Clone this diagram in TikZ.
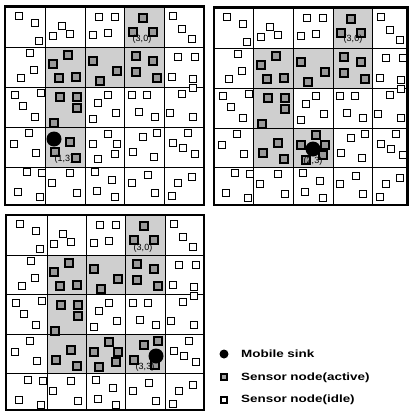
\documentclass[tikz,border=0pt]{standalone}
\usepackage{fontspec}
\newfontfamily\legfont[FakeStretch=1.28]{Liberation Sans Bold}
\newfontfamily\lblfont{Liberation Sans}
% sensor positions per cell (absolute coordinates of the first grid)
\expandafter\def\csname sq0-0\endcsname{19/16,35/23,39/41}
\expandafter\def\csname sq1-0\endcsname{53/36,62/26,70/34}
\expandafter\def\csname sq2-0\endcsname{99/17,115/17,93/35,108/33}
\expandafter\def\csname sq3-0\endcsname{143/18,133/32,153/32}
\expandafter\def\csname sq4-0\endcsname{173/16,182/29,192/39}
\expandafter\def\csname sq0-1\endcsname{30/53,34/70,21/78}
\expandafter\def\csname sq1-1\endcsname{68/55,53/64,59/78,76/77}
\expandafter\def\csname sq2-1\endcsname{93/61,117/71,100/81}
\expandafter\def\csname sq3-1\endcsname{136/56,153/61,136/72,157/78}
\expandafter\def\csname sq4-1\endcsname{178/57,195/57,172/77,193/79}
\expandafter\def\csname sq0-2\endcsname{15/95,41/93,23/106,35/117}
\expandafter\def\csname sq1-2\endcsname{60/97,77/97,77/108,54/123}
\expandafter\def\csname sq2-2\endcsname{108/95,98/103,116/113,93/119}
\expandafter\def\csname sq3-2\endcsname{132/95,147/95,139/112,155/117}
\expandafter\def\csname sq4-2\endcsname{193/88,182/94,170/113,193/117}
\expandafter\def\csname sq0-3\endcsname{29/133,14/144,36/153}
\expandafter\def\csname sq1-3\endcsname{70/142,55/152,76/158}
\expandafter\def\csname sq2-3\endcsname{108/134,93/144,117/144,115/154,98/159}
\expandafter\def\csname sq3-3\endcsname{157/133,143/137,133/152,154/157}
\expandafter\def\csname sq4-3\endcsname{188/133,173/143,183/148,195/154}
\expandafter\def\csname sq0-4\endcsname{27/172,42/173,18/192,40/197}
\expandafter\def\csname sq1-4\endcsname{70/173,52/183,77/193}
\expandafter\def\csname sq2-4\endcsname{95/172,112/180,97/191,115/197}
\expandafter\def\csname sq3-4\endcsname{148/175,132/183,155/193}
\expandafter\def\csname sq4-4\endcsname{192/177,178/183,172/196}
% #1 X lines, #2 Y lines, #3 shift of sensors, #4 shaded cells
\newcommand\sensorgrid[4]{%
  \foreach \c/\r in {#4} {
    \pgfmathsetmacro\xa{{#1}[\c]}\pgfmathsetmacro\xb{{#1}[\c+1]}
    \pgfmathsetmacro\ya{{#2}[\r]}\pgfmathsetmacro\yb{{#2}[\r+1]}
    \fill[cellshade] (\xa,\ya) rectangle (\xb,\yb);
  }
  \pgfmathsetmacro\xl{{#1}[0]}\pgfmathsetmacro\xr{{#1}[5]}
  \pgfmathsetmacro\yt{{#2}[0]}\pgfmathsetmacro\yb{{#2}[5]}
  \foreach \i in {1,...,4} {
    \pgfmathsetmacro\xx{{#1}[\i]}\pgfmathsetmacro\yy{{#2}[\i]}
    \draw[inner] (\xx,\yt) -- (\xx,\yb);
    \draw[inner] (\xl,\yy) -- (\xr,\yy);
  }
  \begin{scope}[shift={(#3)}]
    \foreach \c in {0,...,4} {\foreach \r in {0,...,4} {
      \edef\lst{\csname sq\c-\r\endcsname}
      \foreach \p/\q in \lst {\draw[idlesq] (\p-3.75,\q-3.75) rectangle ++(7.5,7.5);}
    }}
    \foreach \c/\r in {#4} {
      \edef\lst{\csname sq\c-\r\endcsname}
      \foreach \p/\q in \lst {\draw[activesq] (\p-3.75,\q-3.75) rectangle ++(7.5,7.5);}
    }
  \end{scope}
  \draw[outer] (\xl,\yt) rectangle (\xr,\yb);
}
\begin{document}
\begin{tikzpicture}[x=1pt,y=-1pt,
  outer/.style={line width=2.6pt},
  inner/.style={line width=0.9pt},
  cellshade/.style={fill=black!19},
  idlesq/.style={draw=black,line width=1.3pt,fill=white},
  activesq/.style={draw=black,line width=1.6pt,fill=black!40},
  sink/.style={circle,fill=black,inner sep=0pt,minimum size=15pt},
  cellabel/.style={font=\lblfont\fontsize{9}{9}\selectfont,inner sep=0pt},
  legtext/.style={font=\legfont\fontsize{10.5}{10.5}\selectfont,anchor=west,inner sep=0pt}]
\useasboundingbox (0,0) rectangle (409,416);
\fill[white] (0,0) rectangle (409,416);
% grid A
\sensorgrid{5,45,85,124.5,164,204}{6.5,47.5,87.5,127.5,167,205}{0,0}{3/0,1/1,2/1,3/1,1/2,1/3}
\node[sink] (sinkA) at (54,139) {};
\node[cellabel] (lA1) at (142,39) {(3,0)};
\node[cellabel] (lA2) at (64,159) {(1,3)};
% grid B
\sensorgrid{214,253,293,333,372,407.5}{7.5,48,88,128,167,205}{208,1}{3/0,1/1,2/1,3/1,1/2,1/3,2/3}
\node[sink] (sinkB) at (313,149) {};
\node[cellabel] (lB1) at (353,39) {(3,0)};
\node[cellabel] (lB2) at (313,161) {(2,3)};
% grid C
\sensorgrid{6,47,86,125,165,204}{215,255,294,334,373,410}{1,208}{3/0,1/1,2/1,3/1,1/2,1/3,2/3,3/3}
\node[sink] (sinkC) at (156,356) {};
\node[cellabel] (lC1) at (143,248) {(3,0)};
\node[cellabel] (lC2) at (145,367) {(3,3)};
% legend
\node[circle,fill=black,inner sep=0pt,minimum size=9pt] (legsink) at (224,354) {};
\node[draw=black,line width=1.2pt,fill=black!35,inner sep=0pt,minimum size=6pt] (legact) at (224,377) {};
\node[draw=black,line width=1.2pt,fill=white,inner sep=0pt,minimum size=6pt] (legidle) at (224,400) {};
\node[legtext] (t1) at (241,354) {Mobile sink};
\node[legtext] (t2) at (241,378) {Sensor node(active)};
\node[legtext] (t3) at (241,400) {Sensor node(idle)};
\end{tikzpicture}
\end{document}
